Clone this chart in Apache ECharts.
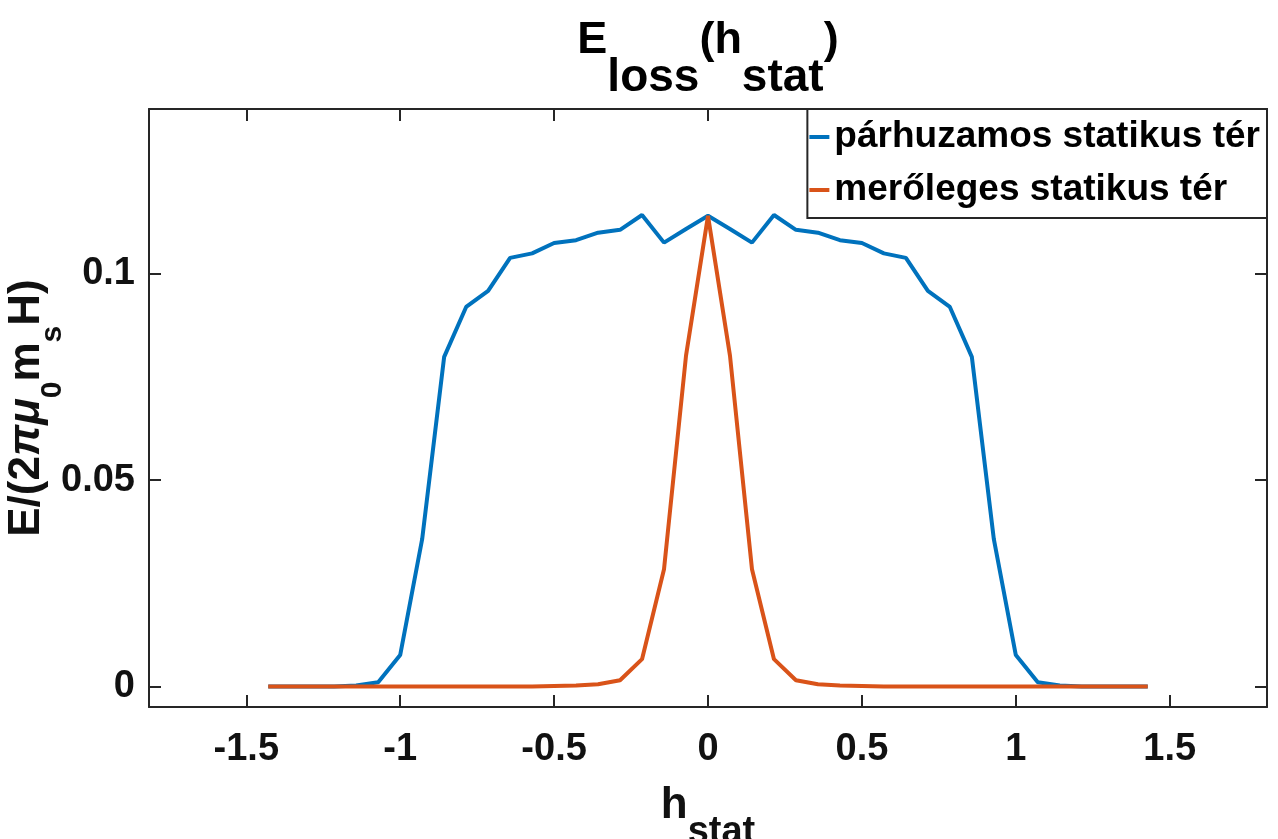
<!DOCTYPE html>
<html><head><meta charset="utf-8">
<script src="https://cdn.jsdelivr.net/npm/echarts@6/dist/echarts.min.js"></script>
<style>html,body{margin:0;padding:0;background:#fff}#c{width:1278px;height:839px}</style>
</head><body><div id="c"></div>
<script>
const hStat = [-1.4286,-1.3571,-1.2857,-1.2143,-1.1429,-1.0714,-1,-0.9286,-0.8571,-0.7857,-0.7143,-0.6429,-0.5714,-0.5,-0.4286,-0.3571,-0.2857,-0.2143,-0.1429,-0.0714,0,0.0714,0.1429,0.2143,0.2857,0.3571,0.4286,0.5,0.5714,0.6429,0.7143,0.7857,0.8571,0.9286,1,1.0714,1.1429,1.2143,1.2857,1.3571,1.4286];
const parallelE = [0,0,0,0,0.0002,0.0010,0.0076,0.0357,0.0799,0.0920,0.0959,0.1039,0.1050,0.1075,0.1082,0.1100,0.1107,0.1143,0.1076,0.1109,0.1141,0.1109,0.1076,0.1143,0.1107,0.1100,0.1082,0.1075,0.1050,0.1039,0.0959,0.0920,0.0799,0.0357,0.0076,0.0010,0.0002,0,0,0,0];
const perpE = [0,0,0,0,0,0,0,0,0,0,0,0,0,0.0001,0.0002,0.0005,0.0015,0.0066,0.0284,0.0802,0.1141,0.0802,0.0284,0.0066,0.0015,0.0005,0.0002,0.0001,0,0,0,0,0,0,0,0,0,0,0,0,0];
const seriesNames = ['párhuzamos statikus tér', 'merőleges statikus tér'];
const xTicks = [-1.5, -1, -0.5, 0, 0.5, 1, 1.5];
const yTicks = [0, 0.05, 0.1];

const FONT = "'Liberation Sans', Arial, Helvetica, sans-serif";
const AX = '#262626';
const TXT = '#111111';
const BLUE = '#0072BD';
const ORANGE = '#D95319';

const pair = (xs, ys) => xs.map((x, i) => [x, ys[i]]);

const chart = echarts.init(document.getElementById('c'), null, {renderer: 'canvas'});

const axisCommon = {
  type: 'value',
  axisLine: {show: true, onZero: false, lineStyle: {color: AX, width: 2}},
  splitLine: {show: false},
  axisTick: {show: true, inside: true, length: 12, lineStyle: {color: AX, width: 2}},
};

chart.setOption({
  animation: false,
  backgroundColor: '#ffffff',
  grid: {left: 149, right: 11, top: 109, bottom: 132, containLabel: false, outerBoundsMode: 'none'},
  graphic: [{
    type: 'text',
    x: 708, y: 18,
    style: {
      text: '{m|E}{s|loss}{m|(h}{s|stat}{m|)}',
      align: 'center', verticalAlign: 'top',
      rich: {
        m: {fontFamily: FONT, fontWeight: 'bold', fontSize: 45, fill: '#000', color: '#000', verticalAlign: 'top'},
        s: {fontFamily: FONT, fontWeight: 'bold', fontSize: 46, fill: '#000', color: '#000', verticalAlign: 'top', padding: [37, 0, 0, 0]}
      }
    }
  }],
  legend: {
    data: seriesNames.map(n => ({name: n, icon: 'rect'})),
    orient: 'vertical',
    right: 11, top: 109,
    padding: [7, 7, 7, 2],
    itemGap: 11,
    itemWidth: 20, itemHeight: 4,
    backgroundColor: '#ffffff',
    borderColor: AX, borderWidth: 2,
    textStyle: {fontFamily: FONT, fontWeight: 'bold', fontSize: 37, color: '#000', lineHeight: 42}
  },
  xAxis: [
    Object.assign({}, axisCommon, {
      position: 'bottom', min: -1.816, max: 1.816,
      axisTick: Object.assign({}, axisCommon.axisTick, {customValues: xTicks}),
      axisLabel: {customValues: xTicks, margin: 24, fontFamily: FONT, fontWeight: 'bold', fontSize: 38, color: TXT},
      name: '{m|h}{s|stat}',
      nameLocation: 'middle', nameGap: 77, nameMoveOverlap: false,
      nameTextStyle: {
        rich: {
          m: {fontFamily: FONT, fontWeight: 'bold', fontSize: 44, color: TXT, verticalAlign: 'top'},
          s: {fontFamily: FONT, fontWeight: 'bold', fontSize: 38, color: TXT, verticalAlign: 'top', padding: [30, 0, 0, 0]}
        }
      }
    }),
    Object.assign({}, axisCommon, {
      position: 'top', min: -1.816, max: 1.816,
      axisTick: Object.assign({}, axisCommon.axisTick, {customValues: xTicks}),
      axisLabel: {show: false}
    })
  ],
  yAxis: [
    Object.assign({}, axisCommon, {
      position: 'left', min: -0.005, max: 0.14,
      axisTick: Object.assign({}, axisCommon.axisTick, {customValues: yTicks}),
      axisLabel: {customValues: yTicks, margin: 14, fontFamily: FONT, fontWeight: 'bold', fontSize: 38, color: TXT},
      name: '{m|E/(2}{g|π}{g|μ}{s|0}{m|m}{s|s}{m|H)}',
      nameLocation: 'middle', nameRotate: 90, nameGap: 81, nameMoveOverlap: false,
      nameTextStyle: {
        rich: {
          m: {fontFamily: FONT, fontWeight: 'bold', fontSize: 44, color: TXT, verticalAlign: 'top'},
          g: {fontFamily: FONT, fontWeight: 'bold', fontStyle: 'italic', fontSize: 44, color: TXT, verticalAlign: 'top'},
          s: {fontFamily: FONT, fontWeight: 'bold', fontSize: 30, color: TXT, verticalAlign: 'top', padding: [33, 0, 0, 0]}
        }
      }
    }),
    Object.assign({}, axisCommon, {
      position: 'right', min: -0.005, max: 0.14,
      axisTick: Object.assign({}, axisCommon.axisTick, {customValues: yTicks}),
      axisLabel: {show: false}
    })
  ],
  series: [
    {name: seriesNames[0], type: 'line', xAxisIndex: 0, yAxisIndex: 0, data: pair(hStat, parallelE),
     symbol: 'none', showSymbol: false, color: BLUE, lineStyle: {color: BLUE, width: 4}, z: 2},
    {name: seriesNames[1], type: 'line', xAxisIndex: 0, yAxisIndex: 0, data: pair(hStat, perpE),
     symbol: 'none', showSymbol: false, color: ORANGE, lineStyle: {color: ORANGE, width: 4}, z: 3}
  ]
});
</script>
</body></html>
